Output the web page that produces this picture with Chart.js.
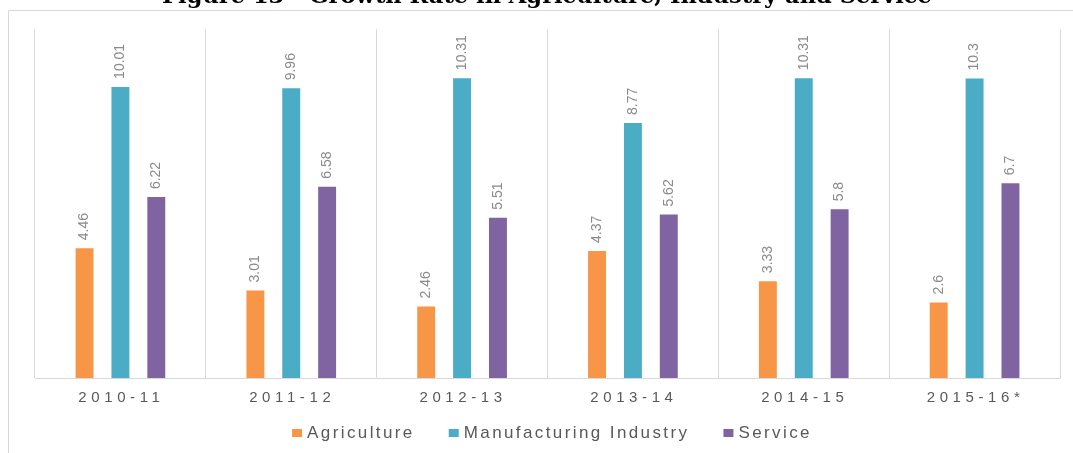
<!DOCTYPE html>
<html>
<head>
<meta charset="utf-8">
<title>Growth Rate in Agriculture, Industry and Service</title>
<script src="https://cdn.jsdelivr.net/npm/chart.js@4.4.1/dist/chart.umd.min.js"></script>
<style>
  html, body { margin: 0; padding: 0; background: #fff; }
  canvas { display: block; }
</style>
</head>
<body>
<canvas id="growthChart" width="1073" height="453"></canvas>
<script>
// Growth rate by sector, per fiscal year
const categories = ['2010-11', '2011-12', '2012-13', '2013-14', '2014-15', '2015-16*'];
const agriculture = [4.46, 3.01, 2.46, 4.37, 3.33, 2.6];
const manufacturing = [10.01, 9.96, 10.31, 8.77, 10.31, 10.3];
const service = [6.22, 6.58, 5.51, 5.62, 5.8, 6.7];
const seriesNames = ['Agriculture', 'Manufacturing Industry', 'Service'];
const seriesColors = ['#f79646', '#4bacc6', '#8064a2'];
const figureTitle = 'Figure 13 - Growth Rate in Agriculture, Industry and Service';

const textGray = '#595959';
const lineGray = '#d9d9d9';

// frame, title, value labels, spaced axis labels and legend
const decorPlugin = {
    id: 'decor',
    beforeDraw(chart) {
        const ctx = chart.ctx;
        ctx.save();
        ctx.fillStyle = '#fff';
        ctx.fillRect(0, 0, chart.width, chart.height);

        // outer frame (runs off the right and bottom edges)
        ctx.strokeStyle = lineGray;
        ctx.lineWidth = 1;
        ctx.beginPath();
        ctx.moveTo(8.5, chart.height + 2);
        ctx.lineTo(8.5, 10.5);
        ctx.lineTo(chart.width + 2, 10.5);
        ctx.stroke();

        // title, mostly cut off by the top edge
        ctx.fillStyle = '#000';
        ctx.font = 'bold 24px "DejaVu Serif", "Liberation Serif", serif';
        const w = ctx.measureText(figureTitle).width;
        const size = 24 * 770 / w;
        ctx.font = 'bold ' + size.toFixed(2) + 'px "DejaVu Serif", "Liberation Serif", serif';
        ctx.textAlign = 'center';
        ctx.textBaseline = 'alphabetic';
        ctx.fillText(figureTitle, 547, 3);
        ctx.restore();
    },
    afterDatasetsDraw(chart) {
        const ctx = chart.ctx;
        ctx.save();
        ctx.fillStyle = '#8a8a8a';
        ctx.font = '14px "Liberation Sans Narrow", "Liberation Sans", Arial, sans-serif';
        ctx.textAlign = 'left';
        ctx.textBaseline = 'middle';
        chart.data.datasets.forEach((ds, di) => {
            const meta = chart.getDatasetMeta(di);
            meta.data.forEach((bar, i) => {
                ctx.save();
                ctx.translate(bar.x, bar.y - 8);
                ctx.rotate(-Math.PI / 2);
                ctx.fillText(String(ds.data[i]), 0, 0);
                ctx.restore();
            });
        });
        ctx.restore();
    },
    afterDraw(chart) {
        const ctx = chart.ctx;
        const xScale = chart.scales.x;
        ctx.save();

        // category labels under the axis
        ctx.fillStyle = textGray;
        ctx.font = '15px "Liberation Sans", Arial, sans-serif';
        ctx.letterSpacing = '4.6px';
        ctx.textAlign = 'center';
        ctx.textBaseline = 'middle';
        categories.forEach((c, i) => {
            ctx.fillText(c, xScale.getPixelForValue(i) + 1, 398);
        });

        // legend
        ctx.font = '17px "Liberation Sans", Arial, sans-serif';
        ctx.letterSpacing = '2.4px';
        ctx.textAlign = 'left';
        const box = 10, boxGap = 5, itemGap = 34;
        const widths = seriesNames.map(n => ctx.measureText(n).width);
        const total = widths.reduce((a, b) => a + b, 0) + seriesNames.length * (box + boxGap) + itemGap * (seriesNames.length - 1);
        let x = 552 - total / 2;
        const y = 433;
        seriesNames.forEach((n, i) => {
            ctx.fillStyle = seriesColors[i];
            ctx.fillRect(x, y - 4, box, 8);
            x += box + boxGap;
            ctx.fillStyle = textGray;
            ctx.fillText(n, x, y);
            x += widths[i] + itemGap;
        });
        ctx.restore();
    }
};

new Chart(document.getElementById('growthChart'), {
    type: 'bar',
    data: {
        labels: categories,
        datasets: [
            { label: seriesNames[0], data: agriculture, backgroundColor: seriesColors[0] },
            { label: seriesNames[1], data: manufacturing, backgroundColor: seriesColors[1] },
            { label: seriesNames[2], data: service, backgroundColor: seriesColors[2] }
        ]
    },
    options: {
        responsive: false,
        animation: false,
        datasets: {
            bar: { barPercentage: 0.5, categoryPercentage: 0.63 }
        },
        layout: { padding: { left: 35, right: 13, top: 29, bottom: 75 } },
        plugins: {
            legend: { display: false },
            tooltip: { enabled: false }
        },
        scales: {
            x: {
                grid: { offset: true, color: lineGray, drawTicks: false },
                border: { color: lineGray },
                ticks: { display: false }
            },
            y: { display: false, min: 0, max: 12 }
        }
    },
    plugins: [decorPlugin]
});
</script>
</body>
</html>
